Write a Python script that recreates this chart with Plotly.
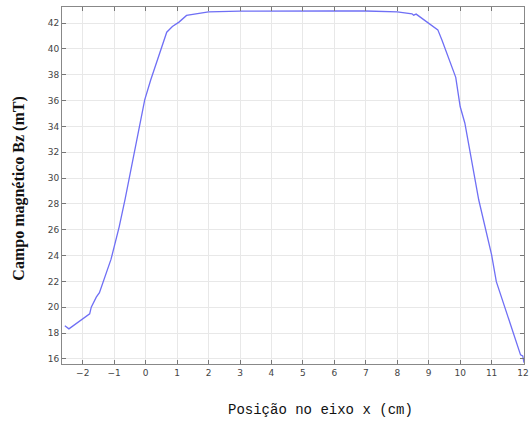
import plotly.graph_objects as go

# Field profile along the x axis
pos_cm = [-2.57, -2.44, -1.78, -1.73, -1.57, -1.47, -1.10, -0.84, -0.65, -0.03,
          0.16, 0.67, 0.85, 1.06, 1.3, 2.0, 3.0, 4.0, 5.0, 6.0, 7.0, 8.0,
          8.47, 8.52, 8.6, 8.94, 9.29, 9.42, 9.86, 10.0, 10.15, 10.59, 11.0,
          11.15, 11.68, 11.92, 11.99, 12.03]
bz_mT = [18.56, 18.32, 19.48, 20.0, 20.78, 21.13, 23.72, 26.24, 28.4, 36.06,
         37.6, 41.3, 41.74, 42.08, 42.6, 42.87, 42.93, 42.95, 42.95, 42.94, 42.94, 42.87,
         42.72, 42.62, 42.7, 42.12, 41.48, 40.7, 37.8, 35.54, 34.25, 28.32, 24.05,
         21.98, 18.1, 16.31, 16.23, 15.7]

x_ticks = list(range(-2, 13))
y_ticks = list(range(16, 43, 2))

fig = go.Figure(go.Scatter(x=pos_cm, y=bz_mT, mode="lines",
                           line=dict(color="#6f6ff5", width=1.3)))

axis_style = dict(showgrid=True, gridcolor="#e8e8e8", gridwidth=1,
                  showline=True, linecolor="#888888", linewidth=1, mirror="ticks",
                  ticks="inside", ticklen=4, tickcolor="#777777",
                  tickfont=dict(family="DejaVu Sans", size=9, color="#444444"),
                  ticklabeloverflow="allow", zeroline=False)

fig.update_xaxes(range=[-2.66, 12.03], tickvals=x_ticks, **axis_style)
fig.update_yaxes(range=[15.6, 43.25], tickvals=y_ticks, **axis_style)

fig.add_annotation(text="Posição no eixo x (cm)", xref="paper", yref="paper",
                   x=0.56, y=-0.128, yanchor="middle", showarrow=False,
                   font=dict(family="Liberation Mono", size=14, color="#111111"))
fig.add_annotation(text="<b>Campo magnético Bz (mT)</b>", xref="paper", yref="paper",
                   x=-0.094, y=0.49, xanchor="center", textangle=-90, showarrow=False,
                   font=dict(family="Liberation Serif", size=16, color="#111111"))

fig.update_layout(width=531, height=422, margin=dict(l=62, r=2, t=7, b=58),
                  plot_bgcolor="white", paper_bgcolor="white", showlegend=False)

fig.write_html("out.html")
